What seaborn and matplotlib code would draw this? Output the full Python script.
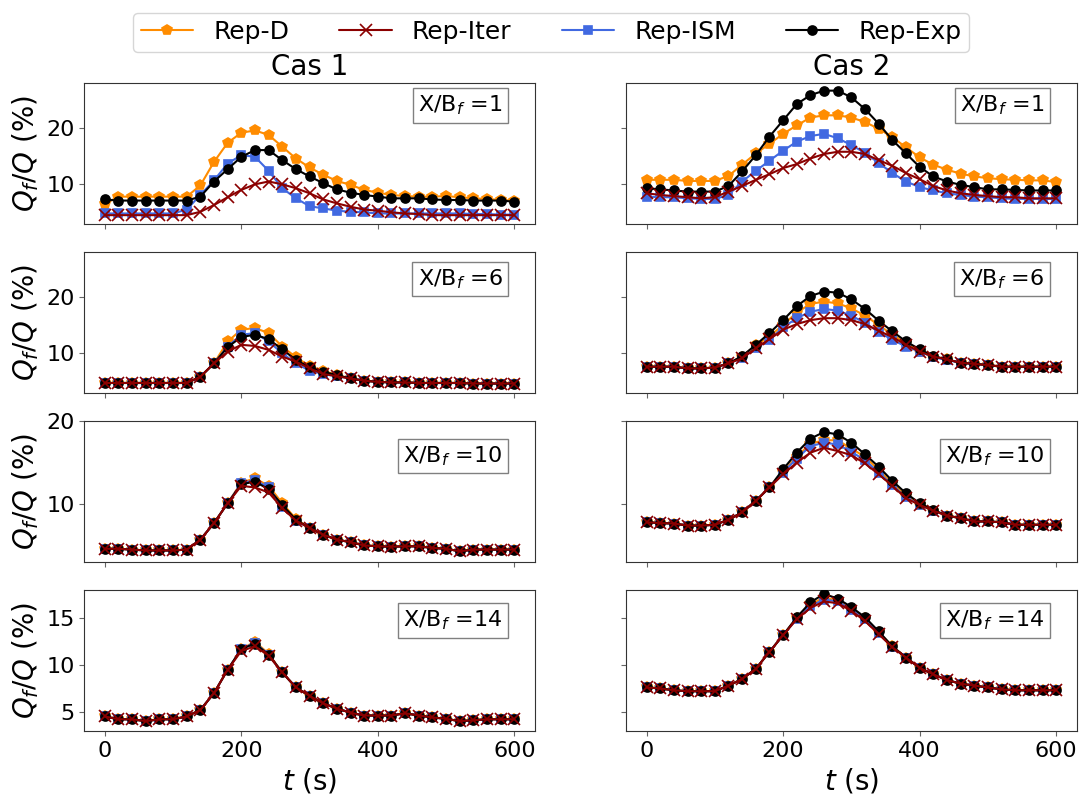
import numpy as np
import pandas as pd
import matplotlib
matplotlib.use("Agg")
import matplotlib.pyplot as plt
import seaborn as sns

# time axis (s)
t = np.arange(0, 601, 20)

series_names = ["Rep-D", "Rep-Iter", "Rep-ISM", "Rep-Exp"]
cases = ["Cas 1", "Cas 2"]
positions = [1, 6, 10, 14]

# ---- Cas 1, X/Bf = 1
c1_x1_d = [6.5, 7.8, 7.8, 7.8, 7.8, 7.8, 7.8, 9.8, 14.0, 17.4, 19.2, 19.6, 18.8, 16.7, 14.6, 13.0,
           11.7, 10.6, 9.9, 9.0, 8.5, 8.1, 7.9, 7.8, 7.8, 7.9, 7.7, 7.5, 7.4, 7.2, 7.1]
c1_x1_iter = [4.5, 4.5, 4.5, 4.5, 4.5, 4.5, 4.5, 5.1, 6.3, 7.7, 9.0, 10.0, 10.5, 10.0, 9.3, 8.4,
              7.3, 6.6, 6.0, 5.5, 5.3, 5.0, 4.8, 4.7, 4.5, 4.5, 4.5, 4.5, 4.5, 4.5, 4.5]
c1_x1_ism = [4.8, 4.8, 4.8, 4.8, 4.8, 4.8, 5.5, 8.1, 10.7, 13.7, 15.2, 14.9, 12.4, 9.3, 7.5, 6.1,
             5.7, 5.3, 5.1, 5.0, 4.8, 4.8, 4.8, 4.8, 4.8, 4.8, 4.8, 4.7, 4.7, 4.6, 4.6]
c1_x1_exp = [7.3, 7.1, 7.1, 7.1, 7.1, 7.1, 7.1, 7.8, 10.5, 12.7, 14.9, 16.1, 16.1, 14.3, 12.7, 11.4,
             10.2, 9.1, 8.5, 8.1, 7.8, 7.5, 7.5, 7.5, 7.3, 7.2, 7.2, 7.1, 7.1, 7.1, 6.9]

# ---- Cas 2, X/Bf = 1
c2_x1_d = [10.8, 10.8, 10.8, 10.6, 10.6, 10.6, 11.5, 13.5, 15.5, 17.2, 19.0, 20.5, 21.9, 22.3, 22.3, 21.9,
           21.1, 19.9, 18.4, 16.6, 14.8, 13.5, 12.6, 11.9, 11.4, 11.1, 10.9, 10.8, 10.7, 10.7, 10.4]
c2_x1_iter = [8.4, 8.1, 7.9, 7.7, 7.5, 7.7, 8.7, 9.7, 10.8, 11.8, 12.9, 13.6, 14.6, 15.4, 15.8, 15.8,
              15.4, 14.3, 13.3, 12.0, 10.9, 9.7, 8.9, 8.4, 8.1, 7.9, 7.7, 7.7, 7.5, 7.5, 7.5]
c2_x1_ism = [7.8, 7.7, 7.7, 7.5, 7.4, 7.4, 8.1, 10.5, 12.4, 14.2, 16.0, 17.6, 18.6, 19.0, 18.2, 17.0,
             15.6, 13.8, 12.0, 10.5, 9.5, 8.9, 8.4, 8.1, 7.8, 7.7, 7.5, 7.4, 7.4, 7.4, 7.4]
c2_x1_exp = [9.3, 9.1, 8.9, 8.7, 8.7, 8.7, 9.7, 12.3, 15.2, 18.5, 21.4, 24.3, 25.9, 26.7, 26.7, 25.5,
             23.4, 20.8, 17.9, 15.5, 13.1, 11.4, 10.5, 9.9, 9.5, 9.1, 9.1, 9.0, 8.9, 8.9, 8.9]

# ---- Cas 1, X/Bf = 6
c1_x6_d = [4.7, 4.7, 4.7, 4.7, 4.7, 4.7, 4.7, 5.8, 8.2, 12.1, 14.2, 14.5, 13.6, 11.2, 9.3, 7.7,
           6.9, 6.1, 5.5, 5.1, 4.9, 4.8, 4.8, 4.7, 4.7, 4.7, 4.7, 4.6, 4.6, 4.6, 4.6]
c1_x6_iter = [4.7, 4.7, 4.7, 4.7, 4.7, 4.7, 4.7, 5.8, 8.2, 10.3, 11.5, 11.3, 10.6, 9.4, 8.5, 7.3,
              6.3, 5.9, 5.5, 5.1, 4.9, 4.8, 4.8, 4.7, 4.7, 4.7, 4.7, 4.6, 4.6, 4.6, 4.6]
c1_x6_ism = [4.7, 4.7, 4.7, 4.7, 4.7, 4.7, 4.7, 5.8, 8.2, 11.2, 13.3, 13.6, 12.1, 10.0, 8.2, 6.9,
             6.3, 5.9, 5.5, 5.1, 4.9, 4.8, 4.8, 4.7, 4.7, 4.7, 4.7, 4.6, 4.6, 4.6, 4.6]
c1_x6_exp = [4.7, 4.7, 4.7, 4.7, 4.7, 4.7, 4.7, 5.8, 8.2, 11.1, 12.9, 13.3, 12.5, 10.7, 8.8, 7.5,
             6.7, 6.1, 5.5, 5.1, 4.9, 4.8, 4.8, 4.7, 4.7, 4.7, 4.7, 4.6, 4.6, 4.6, 4.6]

# ---- Cas 2, X/Bf = 6
c2_x6_d = [7.6, 7.6, 7.6, 7.3, 7.3, 7.45, 8.2, 9.4, 11.4, 13.0, 15.05, 17.25, 18.8, 19.2, 18.9, 18.0,
           16.7, 15.05, 13.3, 11.8, 10.3, 9.4, 8.9, 8.3, 8.1, 7.9, 7.6, 7.6, 7.6, 7.6, 7.6]
c2_x6_iter = [7.6, 7.6, 7.6, 7.3, 7.3, 7.45, 8.2, 9.1, 10.9, 12.5, 14.2, 15.2, 15.9, 16.25, 16.25, 15.9,
              15.2, 14.0, 12.9, 11.5, 10.3, 9.4, 8.9, 8.3, 8.1, 7.9, 7.6, 7.6, 7.6, 7.6, 7.6]
c2_x6_ism = [7.6, 7.6, 7.6, 7.3, 7.3, 7.45, 8.2, 9.1, 10.9, 12.4, 14.6, 16.25, 17.4, 17.9, 17.6, 16.7,
             15.4, 13.8, 12.4, 11.2, 10.3, 9.3, 8.8, 8.3, 8.1, 7.9, 7.6, 7.6, 7.6, 7.6, 7.6]
c2_x6_exp = [7.6, 7.6, 7.6, 7.3, 7.3, 7.45, 8.2, 9.5, 11.5, 13.6, 15.9, 18.4, 20.2, 21.0, 20.8, 19.6,
             17.9, 15.8, 13.9, 12.1, 10.7, 9.5, 8.9, 8.3, 8.1, 7.9, 7.6, 7.6, 7.6, 7.6, 7.6]

# ---- Cas 1, X/Bf = 10
c1_x10_d = [4.6, 4.6, 4.5, 4.4, 4.4, 4.4, 4.5, 5.7, 7.7, 10.1, 12.6, 13.1, 12.2, 10.1, 8.2, 7.1,
            6.3, 5.7, 5.4, 5.0, 4.9, 4.85, 4.9, 4.9, 4.7, 4.6, 4.3, 4.5, 4.5, 4.5, 4.5]
c1_x10_iter = [4.6, 4.6, 4.5, 4.4, 4.4, 4.4, 4.5, 5.7, 7.7, 10.1, 12.2, 12.0, 11.4, 9.5, 8.0, 7.1,
               6.3, 5.7, 5.4, 5.0, 4.9, 4.85, 4.9, 4.9, 4.7, 4.6, 4.3, 4.5, 4.5, 4.5, 4.5]
c1_x10_ism = [4.6, 4.6, 4.5, 4.4, 4.4, 4.4, 4.5, 5.7, 7.7, 10.1, 12.5, 12.9, 12.0, 9.7, 8.0, 7.1,
              6.3, 5.7, 5.4, 5.0, 4.9, 4.85, 4.9, 4.9, 4.7, 4.6, 4.3, 4.5, 4.5, 4.5, 4.5]
c1_x10_exp = [4.6, 4.6, 4.5, 4.4, 4.4, 4.4, 4.5, 5.7, 7.7, 10.1, 12.4, 12.7, 11.8, 9.9, 8.1, 7.1,
              6.3, 5.7, 5.4, 5.0, 4.9, 4.85, 4.9, 4.9, 4.7, 4.6, 4.3, 4.5, 4.5, 4.5, 4.5]

# ---- Cas 2, X/Bf = 10
c2_x10_d = [7.8, 7.7, 7.65, 7.4, 7.4, 7.5, 8.1, 9.0, 10.4, 12.0, 13.9, 15.7, 17.3, 17.7, 17.7, 16.7,
            15.7, 14.1, 12.5, 11.0, 9.9, 9.2, 8.6, 8.3, 7.9, 7.9, 7.8, 7.5, 7.5, 7.5, 7.5]
c2_x10_iter = [7.8, 7.7, 7.65, 7.4, 7.4, 7.5, 8.1, 9.0, 10.4, 12.0, 13.6, 15.0, 16.2, 16.8, 16.4, 15.9,
               14.9, 13.6, 12.2, 10.7, 9.9, 9.2, 8.6, 8.3, 7.9, 7.9, 7.8, 7.5, 7.5, 7.5, 7.5]
c2_x10_ism = [7.8, 7.7, 7.65, 7.4, 7.4, 7.5, 8.1, 9.0, 10.4, 12.0, 13.8, 15.5, 17.0, 17.4, 17.2, 16.3,
              15.3, 13.8, 12.3, 10.8, 9.9, 9.2, 8.6, 8.3, 7.9, 7.9, 7.8, 7.5, 7.5, 7.5, 7.5]
c2_x10_exp = [7.8, 7.7, 7.65, 7.4, 7.4, 7.5, 8.1, 9.0, 10.4, 12.0, 14.2, 16.2, 17.9, 18.7, 18.4, 17.4,
              16.0, 14.5, 12.8, 11.3, 10.1, 9.3, 8.6, 8.3, 7.9, 7.9, 7.8, 7.5, 7.5, 7.5, 7.5]

# ---- Cas 1, X/Bf = 14
c1_x14_d = [4.5, 4.2, 4.2, 4.0, 4.2, 4.2, 4.5, 5.2, 7.0, 9.5, 11.7, 12.5, 11.2, 9.2, 7.6, 6.7,
            5.9, 5.35, 4.9, 4.6, 4.6, 4.6, 4.85, 4.6, 4.4, 4.25, 4.0, 4.1, 4.2, 4.2, 4.2]
c1_x14_iter = [4.5, 4.2, 4.2, 4.0, 4.2, 4.2, 4.5, 5.2, 7.0, 9.5, 11.5, 12.0, 11.0, 9.2, 7.6, 6.7,
               5.9, 5.35, 4.9, 4.6, 4.6, 4.6, 4.85, 4.6, 4.4, 4.25, 4.0, 4.1, 4.2, 4.2, 4.2]
c1_x14_ism = [4.5, 4.2, 4.2, 4.0, 4.2, 4.2, 4.5, 5.2, 7.0, 9.5, 11.7, 12.4, 11.1, 9.2, 7.6, 6.7,
              5.9, 5.35, 4.9, 4.6, 4.6, 4.6, 4.85, 4.6, 4.4, 4.25, 4.0, 4.1, 4.2, 4.2, 4.2]
c1_x14_exp = [4.5, 4.2, 4.2, 4.0, 4.2, 4.2, 4.5, 5.2, 7.0, 9.5, 11.7, 12.3, 11.1, 9.2, 7.6, 6.7,
              5.9, 5.35, 4.9, 4.6, 4.6, 4.6, 4.85, 4.6, 4.4, 4.25, 4.0, 4.1, 4.2, 4.2, 4.2]

# ---- Cas 2, X/Bf = 14
c2_x14_d = [7.6, 7.5, 7.3, 7.2, 7.2, 7.2, 7.8, 8.5, 9.6, 11.4, 13.2, 15.0, 16.5, 17.2, 16.9, 16.0,
            15.0, 13.5, 12.0, 10.8, 9.7, 9.0, 8.4, 8.0, 7.8, 7.6, 7.4, 7.3, 7.3, 7.3, 7.3]
c2_x14_iter = [7.6, 7.5, 7.3, 7.2, 7.2, 7.2, 7.8, 8.5, 9.6, 11.4, 13.2, 14.9, 16.1, 16.8, 16.6, 15.8,
               14.7, 13.3, 11.9, 10.8, 9.7, 9.0, 8.4, 8.0, 7.8, 7.6, 7.4, 7.3, 7.3, 7.3, 7.3]
c2_x14_ism = [7.6, 7.5, 7.3, 7.2, 7.2, 7.2, 7.8, 8.5, 9.6, 11.4, 13.2, 14.9, 16.3, 17.0, 16.8, 15.9,
              14.9, 13.4, 11.9, 10.8, 9.7, 9.0, 8.4, 8.0, 7.8, 7.6, 7.4, 7.3, 7.3, 7.3, 7.3]
c2_x14_exp = [7.6, 7.5, 7.3, 7.2, 7.2, 7.2, 7.8, 8.5, 9.6, 11.4, 13.2, 15.1, 16.7, 17.6, 17.1, 16.2,
              15.1, 13.6, 12.0, 10.8, 9.7, 9.0, 8.4, 8.0, 7.8, 7.6, 7.4, 7.3, 7.3, 7.3, 7.3]

ylims = [(2.9, 28.0), (2.9, 28.0), (3.0, 20.0), (2.95, 18.0)]
yticks = [[10, 20], [10, 20], [10, 20], [5, 10, 15]]
label_y = [0.845, 0.81, 0.754, 0.784]

# build a long table
rows = []
for case_key, case in [("c1", "Cas 1"), ("c2", "Cas 2")]:
    for pos in positions:
        for key, name in [("d", "Rep-D"), ("iter", "Rep-Iter"), ("ism", "Rep-ISM"), ("exp", "Rep-Exp")]:
            vals = globals()[f"{case_key}_x{pos}_{key}"]
            for tt, v in zip(t, vals):
                rows.append({"case": case, "pos": pos, "series": name, "t": tt, "q": v})
df = pd.DataFrame(rows)

styles = {
    "Rep-D": dict(color="darkorange", marker="p", markersize=7, zorder=2),
    "Rep-ISM": dict(color="royalblue", marker="s", markersize=6, zorder=3),
    "Rep-Exp": dict(color="black", marker="o", markersize=6.5, zorder=4),
    "Rep-Iter": dict(color="darkred", marker="x", markersize=8, zorder=5),
}
draw_order = ["Rep-D", "Rep-ISM", "Rep-Exp", "Rep-Iter"]

sns.set_style("ticks")
plt.rcParams["font.family"] = ["DejaVu Sans"]
plt.rcParams["mathtext.fontset"] = "dejavusans"
plt.rcParams["text.color"] = "black"
plt.rcParams["axes.labelcolor"] = "black"
plt.rcParams["xtick.labelcolor"] = "black"
plt.rcParams["ytick.labelcolor"] = "black"
plt.rcParams["xtick.color"] = "0.4"
plt.rcParams["ytick.color"] = "0.4"

fig, axes = plt.subplots(4, 2, figsize=(10.85, 7.96), dpi=100, sharex=True, sharey="row")
fig.subplots_adjust(left=0.0777, right=0.9923, top=0.8953, bottom=0.0817,
                    wspace=0.2025, hspace=0.2)

handles = {}
for j, case in enumerate(cases):
    for i, pos in enumerate(positions):
        ax = axes[i, j]
        sub = df[(df["case"] == case) & (df["pos"] == pos)]
        for name in draw_order:
            st = styles[name]
            d = sub[sub["series"] == name]
            sns.lineplot(data=d, x="t", y="q", ax=ax, color=st["color"], marker=st["marker"],
                         markersize=st["markersize"], mec=st["color"], mew=1.2,
                         linewidth=1.5, zorder=st["zorder"], label=name)
            handles[name] = ax.lines[-1]
        if ax.get_legend() is not None:
            ax.get_legend().remove()
        ax.set_ylim(*ylims[i])
        ax.set_yticks(yticks[i])
        ax.set_xticks([0, 200, 400, 600])
        ax.tick_params(labelsize=16)
        ax.set_xlabel("")
        ax.set_ylabel("$Q_f/Q$ (%)" if j == 0 else "", fontsize=20)
        ax.text(0.928, label_y[i], f"X/B$_f$ ={pos}", transform=ax.transAxes,
                ha="right", va="center", fontsize=16,
                bbox=dict(boxstyle="square,pad=0.25", facecolor="white", edgecolor="0.5", linewidth=1))
        for sp in ax.spines.values():
            sp.set_color("0.2")
    axes[0, j].set_title(case, fontsize=20)
    axes[-1, j].set_xlabel("$t$ (s)", fontsize=20)

order = ["Rep-D", "Rep-Iter", "Rep-ISM", "Rep-Exp"]
fig.legend([handles[n] for n in order], order, loc="upper center", bbox_to_anchor=(0.508, 1.0),
           ncol=4, fontsize=18, handlelength=2.1, handletextpad=0.8, columnspacing=2.0,
           borderpad=0.3, frameon=True, fancybox=True)

fig.savefig("out.png", dpi=100)
